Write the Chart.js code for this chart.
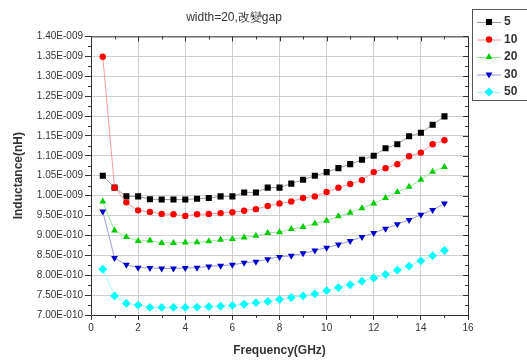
<!DOCTYPE html>
<html>
<head>
<meta charset="utf-8">
<script src="https://cdn.jsdelivr.net/npm/chart.js@4"></script>
<style>
html, body { margin: 0; padding: 0; background: #fff; }
</style>
</head>
<body>
<canvas id="chart" width="527" height="360"></canvas>
<script>
// frequency points (GHz)
var freq = [0.5, 1, 1.5, 2, 2.5, 3, 3.5, 4, 4.5, 5, 5.5, 6, 6.5, 7, 7.5,
            8, 8.5, 9, 9.5, 10, 10.5, 11, 11.5, 12, 12.5, 13, 13.5, 14, 14.5, 15];

// inductance values in nH, one array per gap
var gapLabels = ['5', '10', '20', '30', '50'];
var gap5  = [1.050, 1.020, 0.998, 0.998, 0.991, 0.990, 0.990, 0.990, 0.992, 0.994, 0.998, 0.998, 1.008, 1.008, 1.020,
             1.020, 1.030, 1.040, 1.050, 1.059, 1.069, 1.079, 1.090, 1.100, 1.119, 1.129, 1.149, 1.158, 1.178, 1.199];
var gap10 = [1.349, 1.020, 0.983, 0.963, 0.959, 0.954, 0.953, 0.949, 0.953, 0.954, 0.956, 0.958, 0.962, 0.966, 0.974,
             0.980, 0.985, 0.994, 0.998, 1.009, 1.020, 1.029, 1.039, 1.059, 1.069, 1.079, 1.099, 1.108, 1.129, 1.139];
var gap20 = [0.985, 0.912, 0.896, 0.886, 0.887, 0.881, 0.881, 0.882, 0.883, 0.885, 0.889, 0.891, 0.895, 0.899, 0.906,
             0.908, 0.916, 0.921, 0.930, 0.937, 0.948, 0.957, 0.968, 0.980, 0.994, 1.009, 1.022, 1.040, 1.060, 1.072];
var gap30 = [0.960, 0.843, 0.826, 0.819, 0.818, 0.817, 0.817, 0.818, 0.819, 0.822, 0.824, 0.826, 0.831, 0.834, 0.840,
             0.846, 0.849, 0.855, 0.862, 0.869, 0.877, 0.886, 0.896, 0.906, 0.917, 0.928, 0.939, 0.952, 0.964, 0.980];
var gap50 = [0.815, 0.748, 0.729, 0.725, 0.719, 0.719, 0.719, 0.719, 0.720, 0.721, 0.722, 0.724, 0.727, 0.731, 0.734,
             0.739, 0.744, 0.748, 0.753, 0.761, 0.769, 0.776, 0.785, 0.793, 0.802, 0.813, 0.823, 0.836, 0.849, 0.862];

var markColors = ['#000000', '#ff0000', '#00cc00', '#0000cc', '#00ffff'];
var lineColors = ['#9a9a9a', '#ff9a9a', '#9ae89a', '#9a9ae0', '#aaf5f5'];
var shapes = ['rect', 'circle', 'triangle', 'triangle', 'rectRot'];
var rotations = [0, 0, 0, 180, 0];
var radii = [4.3, 3.2, 4, 4, 4.4];
var series = [gap5, gap10, gap20, gap30, gap50];

function toPoints(arr) {
    return arr.map(function(v, i) { return { x: freq[i], y: v }; });
}

var datasets = series.map(function(arr, k) {
    return {
        label: gapLabels[k],
        data: toPoints(arr),
        order: series.length - k,   // later series on top, like the original
        borderColor: lineColors[k],
        borderWidth: 1,
        backgroundColor: markColors[k],
        pointBackgroundColor: markColors[k],
        pointBorderColor: markColors[k],
        pointBorderWidth: 0,
        pointStyle: shapes[k],
        rotation: rotations[k],
        pointRadius: radii[k],
        tension: 0
    };
});

// 1.40E-009 style labels, values are in nH
function sciLabel(v) {
    v = Math.round(v * 1000) / 1000;
    if (v >= 1) return v.toFixed(2) + 'E-009';
    return (v * 10).toFixed(2) + 'E-010';
}

var txt = '#333333';
var fontFam = '"Liberation Sans", Arial, sans-serif';

// box frame + minor ticks, top/right ticks inward, and the legend box
var framePlugin = {
    id: 'frame',
    afterDraw: function(chart) {
        var ctx = chart.ctx, a = chart.chartArea;
        var xs = chart.scales.x, ys = chart.scales.y;
        ctx.save();
        ctx.strokeStyle = '#333';
        ctx.lineWidth = 1;
        ctx.beginPath();
        ctx.rect(a.left + 0.5, a.top + 0.5, a.right - a.left, a.bottom - a.top);
        var v, p, major;
        for (v = 0; v <= 16; v += 1) {
            p = Math.round(xs.getPixelForValue(v)) + 0.5;
            major = v % 2 === 0;
            ctx.moveTo(p, a.top); ctx.lineTo(p, a.top + (major ? 5 : 3));
            if (!major) { ctx.moveTo(p, a.bottom); ctx.lineTo(p, a.bottom + 3); }
        }
        for (v = 0; v <= 28; v += 1) {
            p = Math.round(ys.getPixelForValue(0.7 + v * 0.025)) + 0.5;
            major = v % 2 === 0;
            ctx.moveTo(a.right, p); ctx.lineTo(a.right - (major ? 5 : 3), p);
            if (!major) { ctx.moveTo(a.left, p); ctx.lineTo(a.left - 3, p); }
        }
        ctx.stroke();

        var bx = 472, by = 9, bw = 60, bh = 91;
        ctx.fillStyle = '#fff';
        ctx.fillRect(bx, by, bw, bh);
        ctx.strokeStyle = '#555';
        ctx.strokeRect(bx + 0.5, by + 0.5, bw, bh);
        ctx.font = 'bold 12px ' + fontFam;
        ctx.textBaseline = 'middle';
        ctx.textAlign = 'left';
        chart.data.datasets.forEach(function(ds, k) {
            var y = by + 13 + k * 17.5;
            ctx.strokeStyle = ds.borderColor;
            ctx.beginPath();
            ctx.moveTo(bx + 5, y + 0.5); ctx.lineTo(bx + 29, y + 0.5);
            ctx.stroke();
            ctx.fillStyle = ds.pointBackgroundColor;
            ctx.strokeStyle = ds.pointBorderColor;
            Chart.helpers.drawPoint(ctx, {
                pointStyle: ds.pointStyle, rotation: ds.rotation,
                radius: ds.pointRadius, borderWidth: 0
            }, bx + 17, y);
            ctx.fillStyle = txt;
            ctx.fillText(ds.label, bx + 32, y);
        });
        ctx.restore();
    }
};

new Chart(document.getElementById('chart'), {
    type: 'line',
    data: { datasets: datasets },
    plugins: [framePlugin],
    options: {
        responsive: false,
        animation: false,
        layout: { padding: { left: 0, right: 59, top: 0, bottom: 0 } },
        plugins: {
            legend: { display: false },
            tooltip: { enabled: false },
            title: {
                display: true,
                text: 'width=20,改變gap',
                color: txt,
                font: { family: fontFam, size: 12, weight: 'normal' },
                padding: { top: 10, bottom: 12 }
            }
        },
        scales: {
            x: {
                type: 'linear',
                min: 0, max: 16,
                ticks: { stepSize: 2, color: txt, padding: 2, font: { family: fontFam, size: 10 } },
                grid: { color: '#cfcfcf', tickColor: '#333', tickLength: 5 },
                border: { display: false },
                title: {
                    display: true, text: 'Frequency(GHz)', color: txt,
                    font: { family: fontFam, size: 12, weight: 'bold' },
                    padding: { top: 0, bottom: 2 }
                },
                afterFit: function(s) { s.height = 45; }
            },
            y: {
                min: 0.7, max: 1.4,
                ticks: {
                    stepSize: 0.05, color: txt, padding: 2,
                    font: { family: fontFam, size: 10 },
                    callback: function(v) { return sciLabel(v); }
                },
                grid: { color: '#cfcfcf', tickColor: '#333', tickLength: 6 },
                border: { display: false },
                title: {
                    display: true, text: 'Inductance(nH)', color: txt,
                    font: { family: fontFam, size: 12, weight: 'bold' },
                    padding: { top: 11, bottom: 0 }
                },
                afterFit: function(s) { s.width = 91; }
            }
        }
    }
});
</script>
</body>
</html>
